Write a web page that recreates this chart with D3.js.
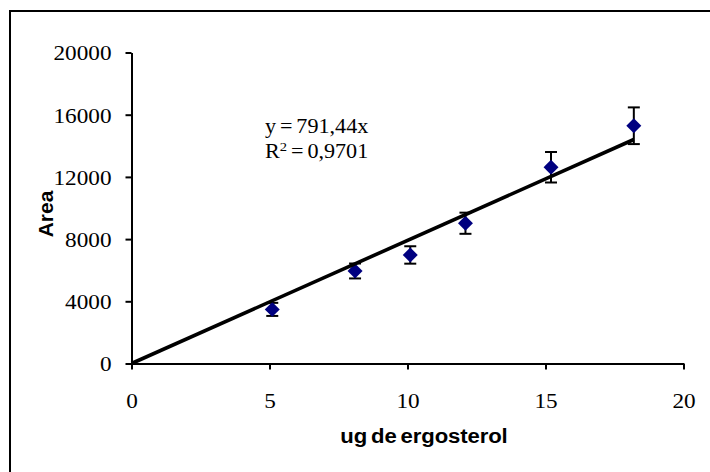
<!DOCTYPE html>
<html>
<head>
<meta charset="utf-8">
<script src="https://cdn.jsdelivr.net/npm/d3@7"></script>
<style>
  body { margin: 0; background: #fff; }
</style>
</head>
<body>
<script>
// data
var ergosterol = [5.1, 8.1, 10.1, 12.1, 15.2, 18.2];
var area = [3480, 5950, 6980, 9020, 12620, 15290];
var areaErr = [420, 480, 560, 680, 980, 1180];
var slope = 791.44;
var rSquared = "0,9701";
var xTicks = [0, 5, 10, 15, 20];
var yTicks = [0, 4000, 8000, 12000, 16000, 20000];

var width = 710, height = 472;
var stretch = 1.08; // the source picture is a little wider than tall

var svg = d3.select("body").append("svg")
  .attr("width", width)
  .attr("height", height);

// outer frame, runs off the right and bottom edge like the original
svg.append("rect")
  .attr("x", 10).attr("y", 11)
  .attr("width", 740).attr("height", 500)
  .attr("fill", "none")
  .attr("stroke", "#000")
  .attr("stroke-width", 2);

var x = d3.scaleLinear().domain([0, 20]).range([131.5, 683.5]);
var y = d3.scaleLinear().domain([0, 20000]).range([363.5, 52.5]);

var serif = "'Liberation Serif', 'Times New Roman', serif";
var sans = "'Liberation Sans', Arial, sans-serif";

// axes
var yAxis = svg.append("g")
  .attr("transform", "translate(" + x(0) + ",0)")
  .call(d3.axisLeft(y).tickValues(yTicks).tickSize(6).tickSizeOuter(0)
    .tickFormat(d3.format("d")));
var xAxis = svg.append("g")
  .attr("transform", "translate(0," + y(0) + ")")
  .call(d3.axisBottom(x).tickValues(xTicks).tickSize(6).tickSizeOuter(0));

[yAxis, xAxis].forEach(function(a) {
  a.select(".domain").attr("stroke-width", 2);
  a.selectAll(".tick line").attr("stroke-width", 2);
  a.selectAll("text")
    .attr("font-family", serif)
    .attr("font-size", 21.5)
    .attr("fill", "#000");
});
yAxis.selectAll("text")
  .attr("x", -20 / stretch)
  .attr("dy", "0.34em")
  .attr("transform", "scale(" + stretch + ",1)");
xAxis.selectAll(".tick text")
  .attr("y", 45)
  .attr("dy", 0)
  .attr("transform", "scale(" + stretch + ",1)");

// axis titles
svg.append("text")
  .attr("transform", "translate(53,214) rotate(-90)")
  .attr("text-anchor", "middle")
  .attr("font-family", sans)
  .attr("font-weight", "bold")
  .attr("font-size", 21)
  .text("Area");

svg.append("text")
  .attr("transform", "translate(424,443) scale(" + stretch + ",1)")
  .attr("text-anchor", "middle")
  .attr("font-family", sans)
  .attr("font-weight", "bold")
  .attr("font-size", 20.5)
  .attr("letter-spacing", -0.1)
  .attr("word-spacing", -2)
  .text("ug de ergosterol");

var points = ergosterol.map(function(v, i) {
  return { x: v, y: area[i], e: areaErr[i] };
});

// error bars
var bars = svg.append("g").attr("stroke", "#000").attr("stroke-width", 2);
points.forEach(function(d) {
  var cx = x(d.x);
  bars.append("line")
    .attr("x1", cx).attr("x2", cx)
    .attr("y1", y(d.y - d.e)).attr("y2", y(d.y + d.e));
  [d.y - d.e, d.y + d.e].forEach(function(v) {
    bars.append("line")
      .attr("x1", cx - 6).attr("x2", cx + 6)
      .attr("y1", y(v)).attr("y2", y(v));
  });
});

// markers
svg.append("g").selectAll("path")
  .data(points)
  .enter()
  .append("path")
  .attr("d", d3.symbol().type(d3.symbolSquare).size(112))
  .attr("transform", function(d) {
    return "translate(" + x(d.x) + "," + y(d.y) + ") rotate(45)";
  })
  .attr("fill", "#000080");

// trend line through the origin
var xMax = d3.max(ergosterol);
svg.append("line")
  .attr("x1", x(0)).attr("y1", y(0))
  .attr("x2", x(xMax)).attr("y2", y(slope * xMax))
  .attr("stroke", "#000")
  .attr("stroke-width", 3.6);

// equation
var eq = svg.append("g")
  .attr("font-family", serif)
  .attr("font-size", 20.5)
  .attr("fill", "#000");
eq.append("text")
  .attr("transform", "translate(265,133.3) scale(" + stretch + ",1)")
  .attr("word-spacing", -1.5)
  .text("y = " + String(slope).replace(".", ",") + "x");
var r2 = eq.append("text")
  .attr("transform", "translate(265,158.3) scale(" + stretch + ",1)")
  .attr("word-spacing", -1.5);
r2.append("tspan").text("R");
r2.append("tspan").attr("font-size", 13.5).attr("dy", -7).text("2");
r2.append("tspan").attr("dy", 7).text(" = " + rSquared);
</script>
</body>
</html>
